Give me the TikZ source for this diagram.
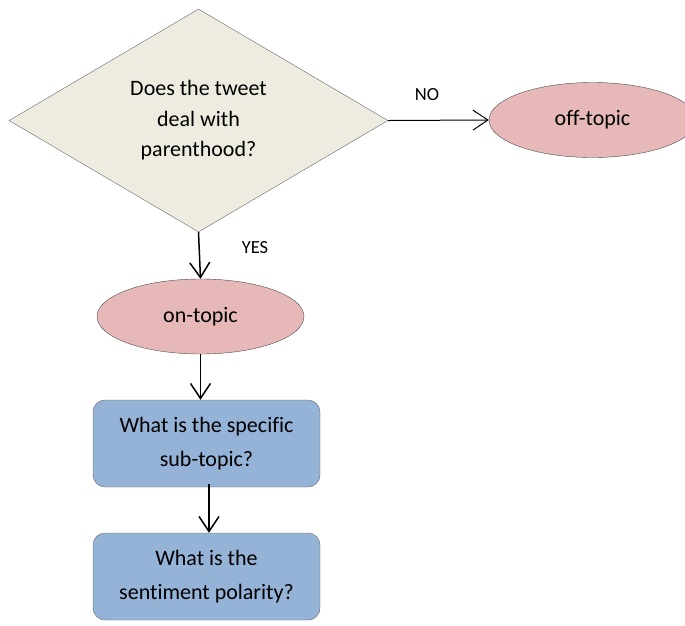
\documentclass[tikz,border=0pt]{standalone}
\usepackage{fontspec}
\setmainfont{Carlito}[Ligatures=NoCommon]
\usetikzlibrary{shapes.geometric,arrows.meta}
\definecolor{askgray}{HTML}{EEECE1}
\definecolor{topicred}{HTML}{E6B9B8}
\definecolor{stepblue}{HTML}{95B3D7}

\begin{document}
\begin{tikzpicture}[x=1pt,y=-1pt,
		question/.style={diamond,draw=black!60,fill=askgray,shape aspect=1.7,inner sep=0pt,
			minimum width=379pt,minimum height=223pt,align=center,font=\fontsize{22}{30.5}\selectfont},
		topic/.style={ellipse,draw=black!70,fill=topicred,inner sep=0pt,
			minimum width=207pt,minimum height=75pt,font=\fontsize{22}{26}\selectfont},
		stepbox/.style={rectangle,rounded corners=12pt,draw=black!60,fill=stepblue,
			minimum width=227pt,minimum height=87pt,align=center,font=\fontsize{22}{34}\selectfont},
		arr/.style={-{Straight Barb[length=15pt,width=20pt]},line width=1.5pt},
		answer/.style={font=\fontsize{18.5}{22}\selectfont}]
		\useasboundingbox (0,0) rectangle (685,625);
		\node[question] (Q)   at (198.5,120.5) {Does the tweet\\deal with\\parenthood?};
		\node[topic]    (off) at (592.5,120)   {off-topic};
		\node[topic]    (on)  at (200.5,316.5) {on-topic};
		\node[stepbox]  (sub) at (206.5,443.5) {What is the specific\\sub-topic?};
		\node[stepbox]  (pol) at (206.5,576.5) {What is the\\sentiment polarity?};
		\draw[arr,line width=1pt] (Q.east) -- (off.west);
		\draw[arr] (Q.south) -- (on.north);
		\draw[arr] (on.south) -- (on.south |- sub.north);
		\draw[arr] ([xshift=2.5pt,yshift=3pt]sub.south) -- ([xshift=2.5pt]pol.north);
		\node[answer] (no)  at (427,95)  {NO};
		\node[answer] (yes) at (255,248) {YES};
	\end{tikzpicture}
\end{document}
